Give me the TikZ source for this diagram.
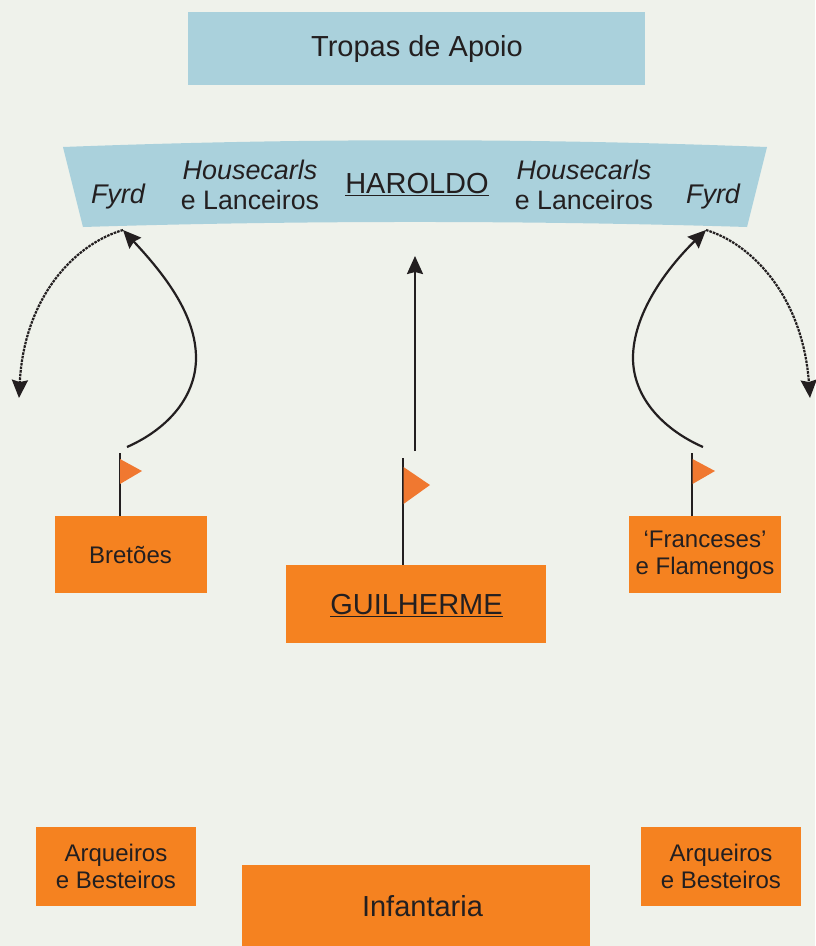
\documentclass[tikz,border=0pt]{standalone}
\usepackage{fontspec}
\setmainfont{Liberation Sans}
\usepackage{tikz}
\usetikzlibrary{arrows.meta, calc}
\definecolor{pastelbg}{RGB}{239, 242, 235}
\definecolor{bandblue}{RGB}{170, 209, 220}
\definecolor{boxorange}{RGB}{245, 130, 32}
\definecolor{flagorange}{RGB}{240, 120, 48}
\definecolor{inkblack}{RGB}{35, 31, 32}

\begin{document}
\begin{tikzpicture}[x=1pt, y=-1pt, text=inkblack]
		\tikzstyle{troop}=[draw=none, fill=boxorange, inner sep=0pt, outer sep=0pt, align=center, font=\fontsize{24}{26.5}\selectfont]
		\tikzstyle{troopbig}=[troop, font=\fontsize{29}{34}\selectfont]
		\tikzstyle{label}=[inner sep=0pt, align=center, font=\fontsize{26.7}{30}\selectfont]
		\tikzstyle{labelbig}=[label, font=\fontsize{29}{34}\selectfont]
		\tikzstyle{labelit}=[label, font=\fontsize{27}{30}\selectfont\itshape]
		\tikzstyle{march}=[draw=inkblack, line width=2.2pt, -{Stealth[length=18pt, width=16pt, inset=2pt]}]
		\tikzstyle{flee}=[march, line width=2.2pt, dash pattern=on 2.6pt off 1pt]
		\tikzstyle{pole}=[draw=inkblack, line width=1.6pt]
		\tikzstyle{flag}=[fill=flagorange, draw=none]
		%%
		\fill [pastelbg] (0,0) rectangle (815,946);
		\useasboundingbox (0,0) rectangle (815,946);
		%%
		\fill [bandblue] (63,147) .. controls (300,138) and (530,138) .. (767,147)
			-- (747,227) .. controls (530,220.3) and (300,220.3) .. (83,227) -- cycle;
		%%
		\node (apoio) at (416.5,48.5) [troopbig, fill=bandblue, minimum width=457pt, minimum height=73pt] {};
		\node (bretoes) at (131,554.5) [troop, minimum width=152pt, minimum height=77pt] {};
		\node (guilherme) at (416,604) [troopbig, minimum width=260pt, minimum height=78pt] {};
		\node (franceses) at (705,554.5) [troop, minimum width=152pt, minimum height=77pt] {};
		\node (arqa) at (116,866.5) [troop, minimum width=160pt, minimum height=79pt] {Arqueiros\\e Besteiros};
		\node (arqb) at (721,866.5) [troop, minimum width=160pt, minimum height=79pt] {Arqueiros\\e Besteiros};
		\node (infantaria) at (416,905.5) [troopbig, minimum width=348pt, minimum height=81pt] {};
		%%
		\node (apoiotext) at (417,48.5) [labelbig] {Tropas de Apoio};
		\node (bretoestext) at (130.5,555.5) [label, font=\fontsize{24}{27}\selectfont] {Bretões};
		\node (guilhermetext) at (416.5,606) [labelbig] {\underline{GUILHERME}};
		\node (francesestext) at (705,555) [label, font=\fontsize{24}{27}\selectfont] {‘Franceses’\\e Flamengos};
		\node (infantariatext) at (422.5,906.5) [labelbig] {Infantaria};
		%%
		\node (fyrda) at (118,197) [labelit] {Fyrd};
		\node (fyrdb) at (713,197) [labelit] {Fyrd};
		\node (lanca) at (250,185) [label] {\fontsize{26.9}{30}\selectfont\itshape Housecarls\\e Lanceiros};
		\node (lancb) at (584,185) [label] {\fontsize{26.9}{30}\selectfont\itshape Housecarls\\e Lanceiros};
		\node (haroldo) at (417,184.5) [labelbig] {\underline{HAROLDO}};
		%%
		\coordinate (hitl) at (123,230);
		\coordinate (hitr) at (706,230);
		\coordinate (hitc) at (415,256);
		\coordinate (awayl) at (19,398);
		\coordinate (awayr) at (810,398);
		\coordinate (startl) at (127,447);
		\coordinate (startr) at (703,447);
		\coordinate (startc) at (415,451);
		\coordinate (topl) at (119.8,453);
		\coordinate (topc) at (403,458);
		\coordinate (topr) at (692,453);
		%%
		\draw [pole] (topl) -- (topl |- bretoes.north);
		\draw [pole] (topc) -- (topc |- guilherme.north);
		\draw [pole] (topr) -- (topr |- franceses.north);
		\fill [flag] (120,459) -- (142,471) -- (120,484) -- cycle;
		\fill [flag] (403.5,467) -- (430,485) -- (403.5,504) -- cycle;
		\fill [flag] (692.5,459) -- (715,471) -- (692.5,484) -- cycle;
		%%
		\draw [march] (startc) -- (hitc);
		\draw [march] (startl) .. controls (170,428) and (196,395) .. (196,358) .. controls (196,315) and (165,275) .. (hitl);
		\draw [march] (startr) .. controls (660,428) and (633,395) .. (633,358) .. controls (633,315) and (665,270) .. (hitr);
		\draw [flee] (hitl) .. controls (72,245) and (24,300) .. (awayl);
		\draw [flee] (hitr) .. controls (755,245) and (803,300) .. (awayr);
		\end{tikzpicture}
\end{document}
